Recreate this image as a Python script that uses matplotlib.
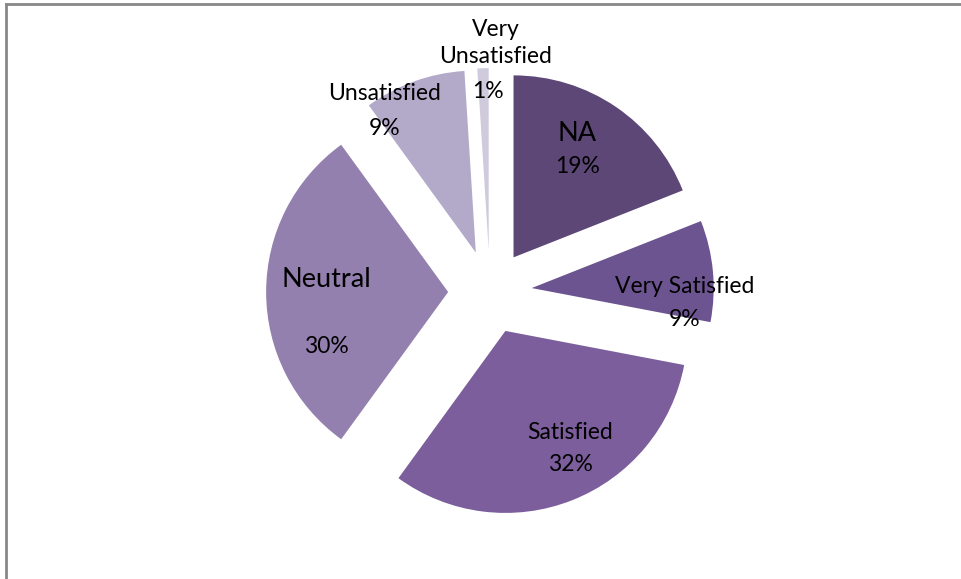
import matplotlib
matplotlib.use("Agg")
import matplotlib.pyplot as plt
from matplotlib.lines import Line2D

plt.rcParams["font.family"] = ["Lato", "DejaVu Sans"]

# data
categories = ["NA", "Very Satisfied", "Satisfied", "Neutral", "Unsatisfied", "Very\nUnsatisfied"]
shares = [19, 9, 32, 30, 9, 1]
colors = ["#5d4777", "#6c5490", "#7b5e9b", "#9380ae", "#b3a9c9", "#d0cadd"]

# label placement (data units, pie radius = 1)
name_pos = [(0.48, 0.87), (1.07, 0.03), (0.44, -0.77), (-0.90, 0.07), (-0.58, 1.09), (0.03, 1.37)]
pct_pos = [(0.48, 0.69), (1.07, -0.15), (0.44, -0.95), (-0.90, -0.30), (-0.58, 0.90), (-0.01, 1.10)]
name_size = [19.5, 16.5, 16.5, 19.5, 16.5, 16.5]

W, H = 961, 579
CX, CY, R = 490, 292, 182  # pixel centre and radius

fig = plt.figure(figsize=(W / 100, H / 100), dpi=100, facecolor="white")
ax = fig.add_axes([0, 0, 1, 1])

ax.pie(
    shares,
    colors=colors,
    startangle=90,
    counterclock=False,
    explode=[0.23] * len(shares),
    wedgeprops={"linewidth": 0},
)
ax.set_aspect("auto")
ax.set_xlim(-CX / R, (W - CX) / R)
ax.set_ylim(-(H - CY) / R, CY / R)
ax.axis("off")

for i, cat in enumerate(categories):
    ax.text(*name_pos[i], cat, ha="center", va="center", fontsize=name_size[i],
            color="black", linespacing=1.35)
    ax.text(*pct_pos[i], f"{shares[i]}%", ha="center", va="center", fontsize=16.5,
            color="black")

# chart frame (top and left edges visible)
fig.add_artist(Line2D([6 / W, 1], [1 - 4 / H, 1 - 4 / H], color="#888888", linewidth=2,
                      transform=fig.transFigure))
fig.add_artist(Line2D([6 / W, 6 / W], [0, 1 - 4 / H], color="#888888", linewidth=2,
                      transform=fig.transFigure))

fig.savefig("out.png", dpi=100, facecolor="white")
